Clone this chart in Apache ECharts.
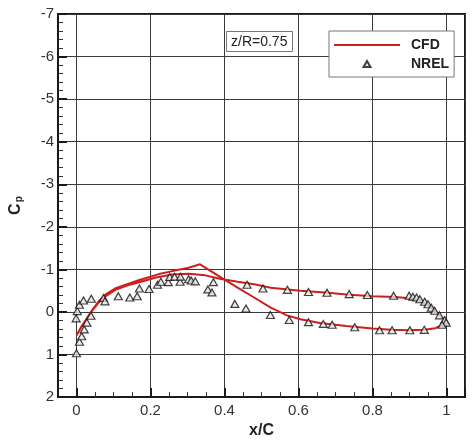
<!DOCTYPE html>
<html>
<head>
<meta charset="utf-8">
<script src="https://cdn.jsdelivr.net/npm/echarts@6/dist/echarts.min.js"></script>
<style>
  html, body { margin: 0; padding: 0; background: #fff; }
  #chart { width: 476px; height: 444px; }
</style>
</head>
<body>
<div id="chart"></div>
<script>
// Pressure coefficient along the blade section at z/R = 0.75

// CFD branch with the sharp suction peak (leading edge -> trailing edge)
const cfdBranchA = [
  [0.000, 0.55], [0.012, 0.36], [0.028, 0.15], [0.042, -0.04], [0.059, -0.24],
  [0.077, -0.40], [0.104, -0.55], [0.139, -0.66], [0.170, -0.75], [0.223, -0.89],
  [0.259, -0.96], [0.303, -1.04], [0.334, -1.12], [0.400, -0.76], [0.440, -0.55],
  [0.480, -0.34], [0.525, -0.10], [0.569, 0.08], [0.605, 0.17], [0.658, 0.26],
  [0.729, 0.33], [0.800, 0.39], [0.850, 0.42], [0.900, 0.43], [0.940, 0.42],
  [0.970, 0.38], [0.990, 0.30], [1.000, 0.24]
];

// CFD branch with the rounded suction peak (leading edge -> trailing edge)
const cfdBranchB = [
  [0.000, 0.55], [0.015, 0.33], [0.030, 0.12], [0.045, -0.06], [0.060, -0.22],
  [0.080, -0.38], [0.105, -0.52], [0.140, -0.63], [0.170, -0.70], [0.215, -0.81],
  [0.259, -0.88], [0.303, -0.90], [0.348, -0.86], [0.387, -0.78], [0.436, -0.71],
  [0.480, -0.65], [0.525, -0.57], [0.605, -0.50], [0.680, -0.45], [0.729, -0.41],
  [0.800, -0.37], [0.860, -0.35], [0.900, -0.32], [0.930, -0.25], [0.950, -0.16],
  [0.970, -0.02], [0.990, 0.15], [1.000, 0.24]
];

// NREL measurements (x/C, Cp)
const nrelPoints = [
  [0.000, 0.97], [0.008, 0.70], [0.014, 0.57], [0.021, 0.41], [0.028, 0.25],
  [0.039, 0.09], [-0.001, 0.15], [0.002, -0.02], [0.008, -0.17], [0.019, -0.27],
  [0.040, -0.31], [0.073, -0.33], [0.077, -0.25], [0.113, -0.37], [0.144, -0.34],
  [0.164, -0.37], [0.170, -0.55], [0.196, -0.54], [0.219, -0.64], [0.228, -0.71],
  [0.248, -0.70], [0.252, -0.82], [0.265, -0.83], [0.280, -0.71], [0.281, -0.83],
  [0.303, -0.77], [0.310, -0.74], [0.321, -0.72], [0.355, -0.53], [0.366, -0.46],
  [0.370, -0.70], [0.428, -0.19], [0.458, -0.08], [0.461, -0.64], [0.504, -0.55],
  [0.570, -0.52], [0.627, -0.47], [0.677, -0.45], [0.737, -0.42], [0.786, -0.40],
  [0.857, -0.38], [0.899, -0.38], [0.909, -0.36], [0.919, -0.34], [0.928, -0.30],
  [0.941, -0.24], [0.950, -0.18], [0.959, -0.10], [0.968, -0.03], [0.981, 0.08],
  [0.995, 0.19], [0.999, 0.25], [0.988, 0.30], [0.524, 0.07], [0.575, 0.19],
  [0.627, 0.24], [0.667, 0.28], [0.691, 0.30], [0.752, 0.36], [0.819, 0.43],
  [0.853, 0.43], [0.901, 0.43], [0.940, 0.42]
];

const seriesNames = ['CFD', 'NREL'];
const annotationText = 'z/R=0.75';

// closed loop: one branch forward, the other back to the leading edge
const cfdLoop = cfdBranchA.concat(cfdBranchB.slice().reverse());

const FONT = '"Liberation Sans", Arial, sans-serif';
const RED = '#d01e1e';

// legend glyphs sized to the 66x14 legend slot (the leading moves fix the box)
const LEGEND_LINE = 'path://M0,0M66,14M0,6L66,6L66,8L0,8Z';
const LEGEND_TRIANGLE = 'path://M0,0M66,14M33,4L36.5,10L29.5,10Z';

const chart = echarts.init(document.getElementById('chart'), null, { renderer: 'canvas' });

chart.setOption({
  animation: false,
  backgroundColor: '#fff',
  textStyle: { fontFamily: FONT },
  title: {
    text: annotationText,
    left: 226, top: 31,
    padding: [4, 5, 3, 5],
    borderColor: '#777', borderWidth: 1, backgroundColor: '#fff',
    textStyle: { fontFamily: FONT, fontSize: 14, fontWeight: 'normal', color: '#222' }
  },
  legend: {
    data: [
      { name: seriesNames[0], icon: LEGEND_LINE, itemStyle: { color: RED, borderWidth: 0 } },
      { name: seriesNames[1], icon: LEGEND_TRIANGLE }
    ],
    orient: 'vertical',
    left: 329, top: 31,
    padding: [7, 5, 5, 4],
    itemGap: 4,
    itemWidth: 66,
    itemHeight: 14,
    symbolKeepAspect: true,
    backgroundColor: '#fff',
    borderColor: '#777', borderWidth: 1, borderRadius: 0,
    textStyle: { fontFamily: FONT, fontSize: 14, fontWeight: 'bold', color: '#222', padding: [0, 0, 0, 6] }
  },
  grid: {
    left: 53, top: 14, right: 11, bottom: 36,
    show: true, borderColor: '#1a1a1a', borderWidth: 2, backgroundColor: 'transparent'
  },
  xAxis: {
    type: 'value',
    min: -0.05, max: 1.05,
    splitNumber: 5,
    name: 'x/C',
    nameLocation: 'middle',
    nameGap: 23,
    nameTextStyle: { fontFamily: FONT, fontSize: 16, fontWeight: 'bold', color: '#222' },
    axisLine: { show: true, onZero: false, lineStyle: { color: '#1a1a1a', width: 2 } },
    axisTick: { show: true, inside: true, length: 9, lineStyle: { color: '#1a1a1a', width: 2 } },
    minorTick: { show: true, splitNumber: 4, length: 5, lineStyle: { color: '#333', width: 1 } },
    splitLine: { show: true, lineStyle: { color: '#3a3a3a', width: 1 } },
    axisLabel: {
      margin: 6,
      fontFamily: FONT, fontSize: 15, color: '#333',
      formatter: v => (v < -1e-6 || v > 1 + 1e-6) ? '' : String(+v.toFixed(2))
    }
  },
  yAxis: {
    type: 'value',
    inverse: true,
    min: -7, max: 2, interval: 1,
    name: '{c|C}{p|p}',
    nameLocation: 'middle',
    nameGap: 34,
    nameRotate: 90,
    nameTextStyle: {
      rich: {
        c: { fontFamily: FONT, fontSize: 16, fontWeight: 'bold', color: '#222' },
        p: { fontFamily: FONT, fontSize: 10, fontWeight: 'bold', color: '#222', padding: [6, 0, 0, 1] }
      }
    },
    axisLine: { show: true, onZero: false, lineStyle: { color: '#1a1a1a', width: 2 } },
    axisTick: { show: true, inside: true, length: 9, lineStyle: { color: '#1a1a1a', width: 2 } },
    minorTick: { show: true, splitNumber: 5, length: 5, lineStyle: { color: '#333', width: 1 } },
    splitLine: { show: true, lineStyle: { color: '#3a3a3a', width: 1 } },
    axisLabel: { margin: 4, fontFamily: FONT, fontSize: 15, color: '#333' }
  },
  series: [
    {
      name: seriesNames[0],
      type: 'line',
      data: cfdLoop,
      symbol: 'none',
      smooth: false,
      lineStyle: { color: RED, width: 2 },
      itemStyle: { color: RED },
      z: 2
    },
    {
      name: seriesNames[1],
      type: 'scatter',
      data: nrelPoints,
      symbol: 'triangle',
      symbolSize: [8, 7],
      itemStyle: { color: '#e6e6e6', borderColor: '#111', borderWidth: 1.2 },
      z: 3
    }
  ]
});
</script>
</body>
</html>
